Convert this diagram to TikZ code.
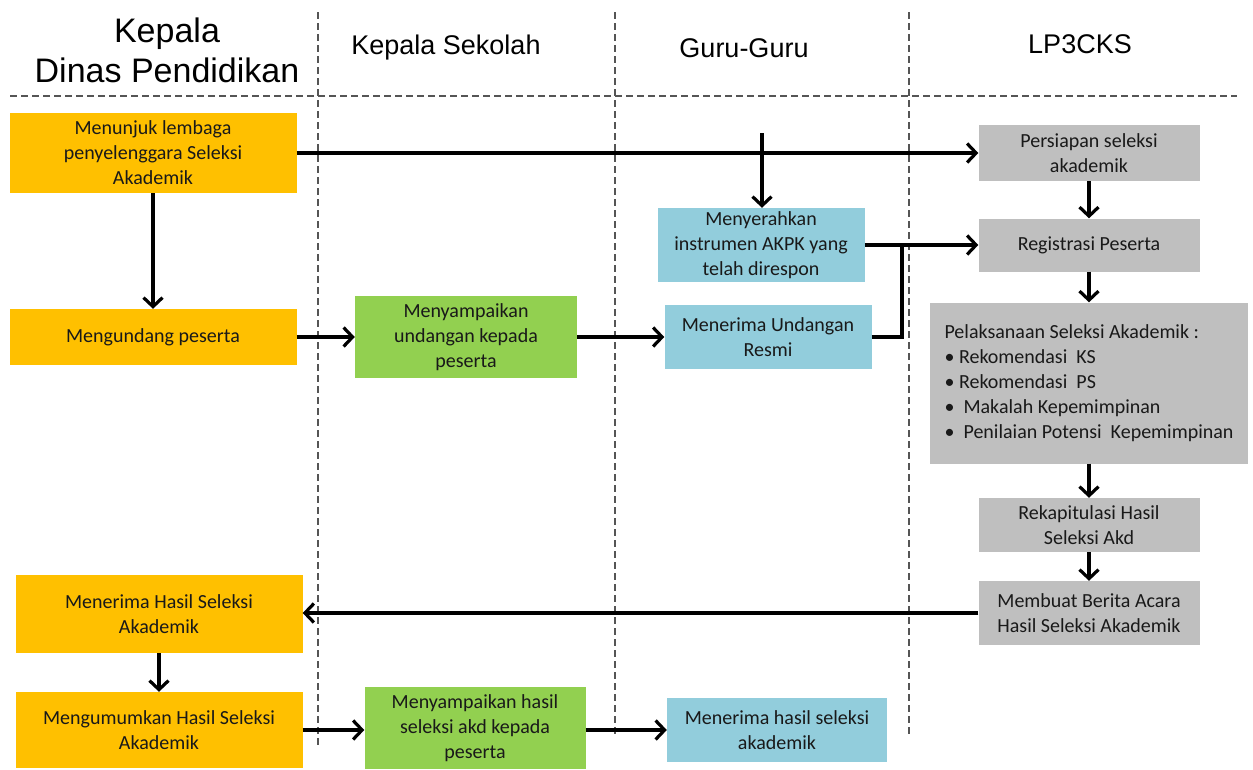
\documentclass[tikz,border=0pt]{standalone}
\usepackage{fontspec}
\setmainfont{Carlito}
\newfontfamily\headfont{Liberation Sans}
\usetikzlibrary{arrows.meta}

\definecolor{kuning}{HTML}{FFC000}
\definecolor{hijau}{HTML}{92D050}
\definecolor{biru}{HTML}{92CDDC}
\definecolor{abu}{HTML}{BFBFBF}
\definecolor{garis}{HTML}{555555}

\begin{document}
\begin{tikzpicture}[x=1pt,y=-1pt,
	box/.style={align=center,inner sep=2pt,text=black!90,
		font=\fontsize{20}{25}\selectfont},
	kadis/.style={box,fill=kuning,minimum width=287,minimum height=80},
	kasek/.style={box,fill=hijau,minimum width=222,minimum height=82},
	guru/.style={box,fill=biru,minimum width=207,minimum height=70},
	lp/.style={box,fill=abu,minimum width=221,minimum height=55},
	head/.style={align=center,font=\headfont\fontsize{27}{32}\selectfont},
	lane/.style={garis,line width=1.3pt,dash pattern=on 7pt off 4pt},
	flow/.style={line width=3.2pt,-{Straight Barb[length=9pt,width=19pt]}},
	line/.style={line width=3.2pt}]
	
	\useasboundingbox (0,0) rectangle (1253,769);
	
	% Lanes
	\draw[lane] (10,96) -- (1237,96);
	\draw[lane] (318,12) -- (318,748);
	\draw[lane] (615,12) -- (615,737);
	\draw[lane] (909,12) -- (909,737);
	
	% Headers
	\node[head,font=\headfont\fontsize{34}{40}\selectfont] (hkadis) at (167,50) {Kepala\\Dinas Pendidikan};
	\node[head] (hkasek) at (446,48) {Kepala Sekolah};
	\node[head] (hguru)  at (744,48) {Guru-Guru};
	\node[head] (hlp)    at (1080,44) {LP3CKS};
	
	% Kepala Dinas Pendidikan
	\node[kadis] (tunjuk) at (153,153) {Menunjuk lembaga\\penyelenggara Seleksi\\Akademik};
	\node[kadis,minimum height=56] (undang) at (153,337) {Mengundang peserta};
	\node[kadis,minimum height=78] (terimahasil) at (159,614) {Menerima Hasil Seleksi\\Akademik};
	\node[kadis,minimum height=76] (umum) at (159,730) {Mengumumkan Hasil Seleksi\\Akademik};
	
	% Kepala Sekolah
	\node[kasek] (sampai) at (466,337) {Menyampaikan\\undangan kepada\\peserta};
	\node[kasek,minimum width=221] (sampaihasil) at (475,728) {Menyampaikan hasil\\seleksi akd kepada\\peserta};
	
	% Guru-Guru
	\node[guru,minimum height=74] (serah) at (761,245) {Menyerahkan\\instrumen AKPK yang\\telah direspon};
	\node[guru,minimum height=64] (terima) at (768,337) {Menerima Undangan\\Resmi};
	\node[guru,minimum width=220,minimum height=64] (terimaakd) at (777,730) {Menerima hasil seleksi\\akademik};
	
	% LP3CKS
	\node[lp,minimum height=56] (siap) at (1089,153) {Persiapan seleksi\\akademik};
	\node[lp,minimum height=53] (regis) at (1089,245) {Registrasi Peserta};
	\node[lp,minimum width=318,minimum height=161,align=left] (laksana) at (1089,383)
		{Pelaksanaan Seleksi Akademik :\\
		 \textbullet\ Rekomendasi\ \ KS\\
		 \textbullet\ Rekomendasi\ \ PS\\
		 \textbullet\ \ Makalah Kepemimpinan\\
		 \textbullet\ \ Penilaian Potensi\ \ Kepemimpinan};
	\node[lp,minimum height=54] (rekap) at (1089,525) {Rekapitulasi Hasil\\Seleksi Akd};
	\node[lp,minimum height=64] (berita) at (1089,613) {Membuat Berita Acara\\Hasil Seleksi Akademik};
	
	% Connectors
	\coordinate (instr) at (762,133);
	\coordinate (gabung) at (902,245);
	\draw[flow] (tunjuk) -- (siap);
	\draw[flow] (tunjuk) -- (undang);
	\draw[flow] (instr) -- (instr |- serah.north);
	\draw[flow] (undang) -- (sampai);
	\draw[flow] (sampai) -- (terima);
	\draw[flow] (serah.east) -- (serah.east -| regis.west);
	\draw[line] (terima.east) -| (gabung);
	\draw[flow] (siap) -- (regis);
	\draw[flow] (regis) -- (laksana);
	\draw[flow] (laksana) -- (rekap);
	\draw[flow] (rekap) -- (berita);
	\draw[flow] (berita.west) -- (berita.west -| terimahasil.east);
	\draw[flow] (terimahasil) -- (umum);
	\draw[flow] (umum.east) -- (umum.east -| sampaihasil.west);
	\draw[flow] (umum.east -| sampaihasil.east) -- (umum.east -| terimaakd.west);
	
\end{tikzpicture}
\end{document}
